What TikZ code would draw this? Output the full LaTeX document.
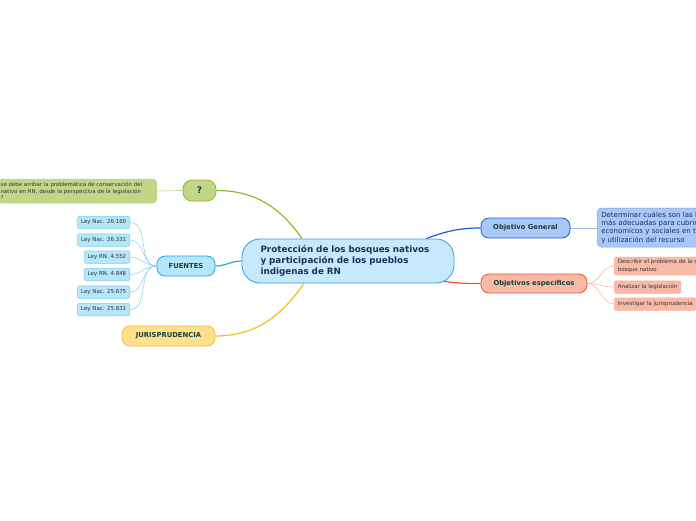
\documentclass[tikz,border=0pt]{standalone}
\usepackage{fontspec}
\setmainfont{DejaVu Sans}
\usepackage{xcolor}
\usepackage{tikz}
\usetikzlibrary{positioning,backgrounds,calc}

\definecolor{rootfill}{HTML}{C6EAFB}
\definecolor{rootline}{HTML}{3B9AD9}
\definecolor{roottext}{HTML}{1F2D5C}
\definecolor{topictext}{HTML}{17403A}
\definecolor{leaftext}{HTML}{333333}
\definecolor{greenfill}{HTML}{C2D68A}
\definecolor{greenline}{HTML}{8FBC1F}
\definecolor{cyanfill}{HTML}{B5E6FB}
\definecolor{cyanline}{HTML}{28A6E0}
\definecolor{yellowfill}{HTML}{FDE08D}
\definecolor{yellowline}{HTML}{F7B928}
\definecolor{bluefill}{HTML}{A8C8F8}
\definecolor{blueline}{HTML}{1A5BD0}
\definecolor{redfill}{HTML}{F8BAA6}
\definecolor{redline}{HTML}{EF5424}

\begin{document}
\begin{tikzpicture}[
  x=1pt, y=-1pt,
  root/.style={draw=rootline, fill=rootfill, line width=0.8pt, rounded corners=18pt,
    minimum width=212pt, minimum height=44pt, text width=175pt, align=left,
    text=roottext, font=\bfseries\fontsize{8.8}{11}\selectfont},
  topic/.style={line width=0.8pt, rounded corners=8pt, minimum height=20pt,
    inner sep=0pt, text=topictext, font=\bfseries\fontsize{6.8}{8}\selectfont},
  leaf/.style={line width=0.5pt, rounded corners=2pt, minimum height=12.5pt,
    inner xsep=3.5pt, inner ysep=1pt, text=leaftext, align=left,
    font=\fontsize{5.5}{7.2}\selectfont},
  branch/.style={line width=1.2pt},
  twig/.style={line width=0.6pt}
]
\useasboundingbox (0,0) rectangle (696,520);
\clip (0,0) rectangle (696,520);

% Central topic
\node[root] (main) at (348,261)
  {Protección de los bosques nativos\\y participación de los pueblos\\indigenas de RN};

% Question branch
\node[topic, draw=greenline, fill=greenfill, rounded corners=9pt, minimum width=33pt,
  minimum height=21pt, font=\bfseries\fontsize{9}{10}\selectfont] (q) at (199.5,190.5) {?};
\node[leaf, draw=greenline!60, fill=greenfill, rounded corners=4pt, anchor=east,
  text width=153pt, inner xsep=3pt, minimum height=24pt, font=\fontsize{5.4}{6.6}\selectfont] (qtext) at (157,191)
  {se debe arribar la problemática de conservación del\\nativo en RN, desde la perspectiva de la legislación\\?};

% Sources
\node[topic, draw=cyanline, fill=cyanfill, minimum width=58pt] (fuentes) at (186,266) {FUENTES};
\node[leaf, draw=cyanline!60, fill=cyanfill, anchor=east] (ley1) at (130,222.5) {Ley Nac. 26.160};
\node[leaf, draw=cyanline!60, fill=cyanfill, anchor=east] (ley2) at (130,240) {Ley Nac. 26.331};
\node[leaf, draw=cyanline!60, fill=cyanfill, anchor=east] (ley3) at (130,257) {Ley RN. 4.552};
\node[leaf, draw=cyanline!60, fill=cyanfill, anchor=east] (ley4) at (130,274.5) {Ley RN. 4.848};
\node[leaf, draw=cyanline!60, fill=cyanfill, anchor=east] (ley5) at (130,292) {Ley Nac. 25.675};
\node[leaf, draw=cyanline!60, fill=cyanfill, anchor=east] (ley6) at (130,309.5) {Ley Nac. 25.831};

% Case law
\node[topic, draw=yellowline, fill=yellowfill, minimum width=93pt] (juris) at (168.5,336) {JURISPRUDENCIA};

% General objective
\node[topic, draw=blueline, fill=bluefill, minimum width=89pt] (og) at (525.5,228) {Objetivo General};
\node[leaf, draw=blueline!55, fill=bluefill, rounded corners=4pt, anchor=west,
  text width=112pt, inner xsep=4pt, minimum height=39pt, text=roottext,
  font=\fontsize{7}{8.3}\selectfont] (ogtext) at (597,227.5)
  {Determinar cuáles son las h\\más adecuadas para cubrir\\economicos y sociales en t\\y utilización del recurso};

% Specific objectives
\node[topic, draw=redline, fill=redfill, minimum width=106pt, minimum height=19pt] (oe) at (534,283.5) {Objetivos específicos};
\node[leaf, draw=redline!45, fill=redfill, anchor=west, minimum height=18pt, text width=90pt] (oe1) at (614,266)
  {Describir el problema de la c\\bosque nativo};
\node[leaf, draw=redline!45, fill=redfill, anchor=west] (oe2) at (614,287) {Analizar la legislación};
\node[leaf, draw=redline!45, fill=redfill, anchor=west] (oe3) at (614,304) {Investigar la jurisprudencia};

% Connectors
\begin{scope}[on background layer]
\draw[branch, greenline] (main.154) to[out=125,in=0] (q.east);
\draw[twig, greenline!50, line width=0.8pt] (q.west) -- (qtext.east);
\draw[branch, cyanline] (main.west) to[out=180,in=0] (fuentes.east);
\draw[branch, yellowline] (main.207) to[out=235,in=0] (juris.east);
\draw[branch, blueline] (main.16) to[out=20,in=180] (og.west);
\draw[branch, redline] ($(main.south east)+(-16,-3)$) to[out=-10,in=180] (oe.west);
\draw[twig, blueline!45, line width=0.8pt] (og.east) -- (ogtext.west |- og.east);
\foreach \n in {1,...,6}
  \draw[twig, cyanline!50] (ley\n.east) to[out=0,in=180] (fuentes.west);
\foreach \n in {1,2,3}
  \draw[twig, redline!40] (oe.east) to[out=0,in=180] (oe\n.west);
\end{scope}

\end{tikzpicture}
\end{document}
